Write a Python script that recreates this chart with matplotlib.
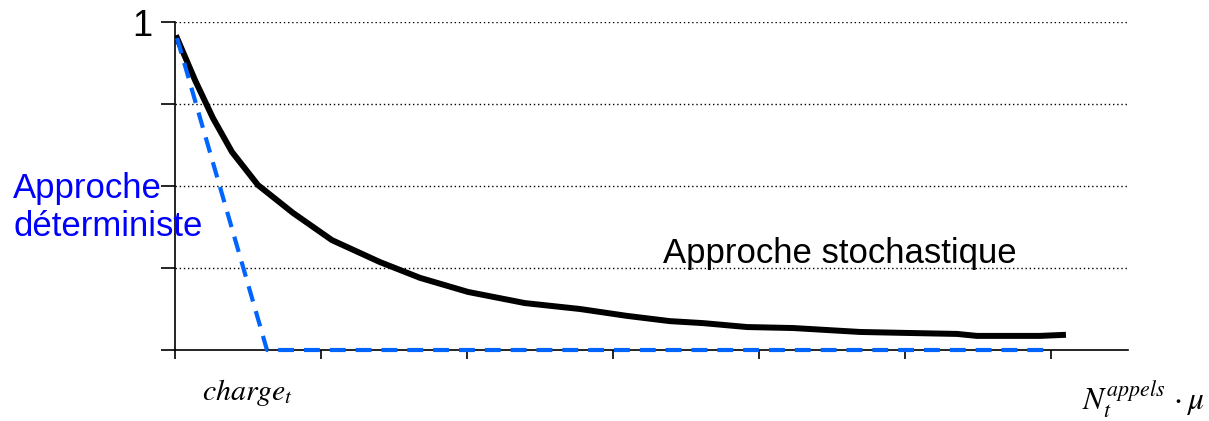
import matplotlib
matplotlib.use("Agg")
import matplotlib.pyplot as plt

# Data (x in tick units, y normalized 0..1)
stoch_x = [0.014, 0.137, 0.260, 0.390, 0.568, 0.808, 1.075, 1.404, 1.678, 2.007,
           2.397, 2.774, 3.096, 3.390, 3.616, 3.918, 4.233, 4.692, 5.014, 5.356,
           5.493, 5.925, 6.082]
stoch_y = [0.951, 0.823, 0.707, 0.604, 0.503, 0.418, 0.335, 0.268, 0.220, 0.177,
           0.143, 0.125, 0.104, 0.088, 0.082, 0.070, 0.067, 0.055, 0.052, 0.049,
           0.043, 0.043, 0.046]
det_x = [0.014, 0.63, 6.0]
det_y = [0.951, 0.0, 0.0]
x_ticks = [0, 1, 2, 3, 4, 5, 6]
y_ticks = [0, 0.25, 0.5, 0.75, 1]
y_ticklabels = ["", "", "", "", "1"]

plt.rcParams['font.family'] = ['Liberation Sans', 'DejaVu Sans']
plt.rcParams['mathtext.fontset'] = 'stix'

W, H = 1209, 421
fig = plt.figure(figsize=(W / 100, H / 100), dpi=100)
ax = fig.add_axes([175 / W, (H - 350) / H, (1128 - 175) / W, (350 - 22) / H])

ax.plot(stoch_x, stoch_y, color='black', lw=4.3, solid_joinstyle='miter', zorder=3)
ax.plot(det_x, det_y, color='#0064FF', lw=3.0, dashes=(3.8, 2.4), zorder=4,
        clip_on=False)

ax.set_xlim(0, (1128 - 175) / 146)
ax.set_ylim(0, 1)
ax.set_xticks(x_ticks)
ax.set_xticklabels([])
ax.set_yticks(y_ticks)
ax.set_yticklabels(y_ticklabels, fontsize=26)
ax.tick_params(axis='y', length=10, width=1.2, pad=6, direction='out')
ax.tick_params(axis='x', length=6.5, width=1.2, direction='out')

for yv in y_ticks[1:]:
    ax.axhline(yv, color='black', lw=1.0, linestyle=(0, (1, 2)), zorder=1)

for s in ['top', 'right']:
    ax.spines[s].set_visible(False)
for s in ['left', 'bottom']:
    ax.spines[s].set_linewidth(1.2)

# Texts
fig.text(13 / W, (H - 198) / H, "Approche", color='#0000FF', fontsize=25,
         va='baseline', ha='left')
fig.text(13 / W, (H - 236) / H, "déterministe", color='#0000FF', fontsize=25,
         va='baseline', ha='left')
fig.text(663 / W, (H - 263) / H, "Approche stochastique", color='black',
         fontsize=25, va='baseline', ha='left')
fig.text(202 / W, (H - 400) / H, r"$charge_t$", color='black', fontsize=21.5,
         va='baseline', ha='left')
fig.text(1082 / W, (H - 410) / H, r"$N_t^{appels}\,\cdot\mu$", color='black',
         fontsize=22.5, va='baseline', ha='left')

fig.savefig("out.png", dpi=100)
